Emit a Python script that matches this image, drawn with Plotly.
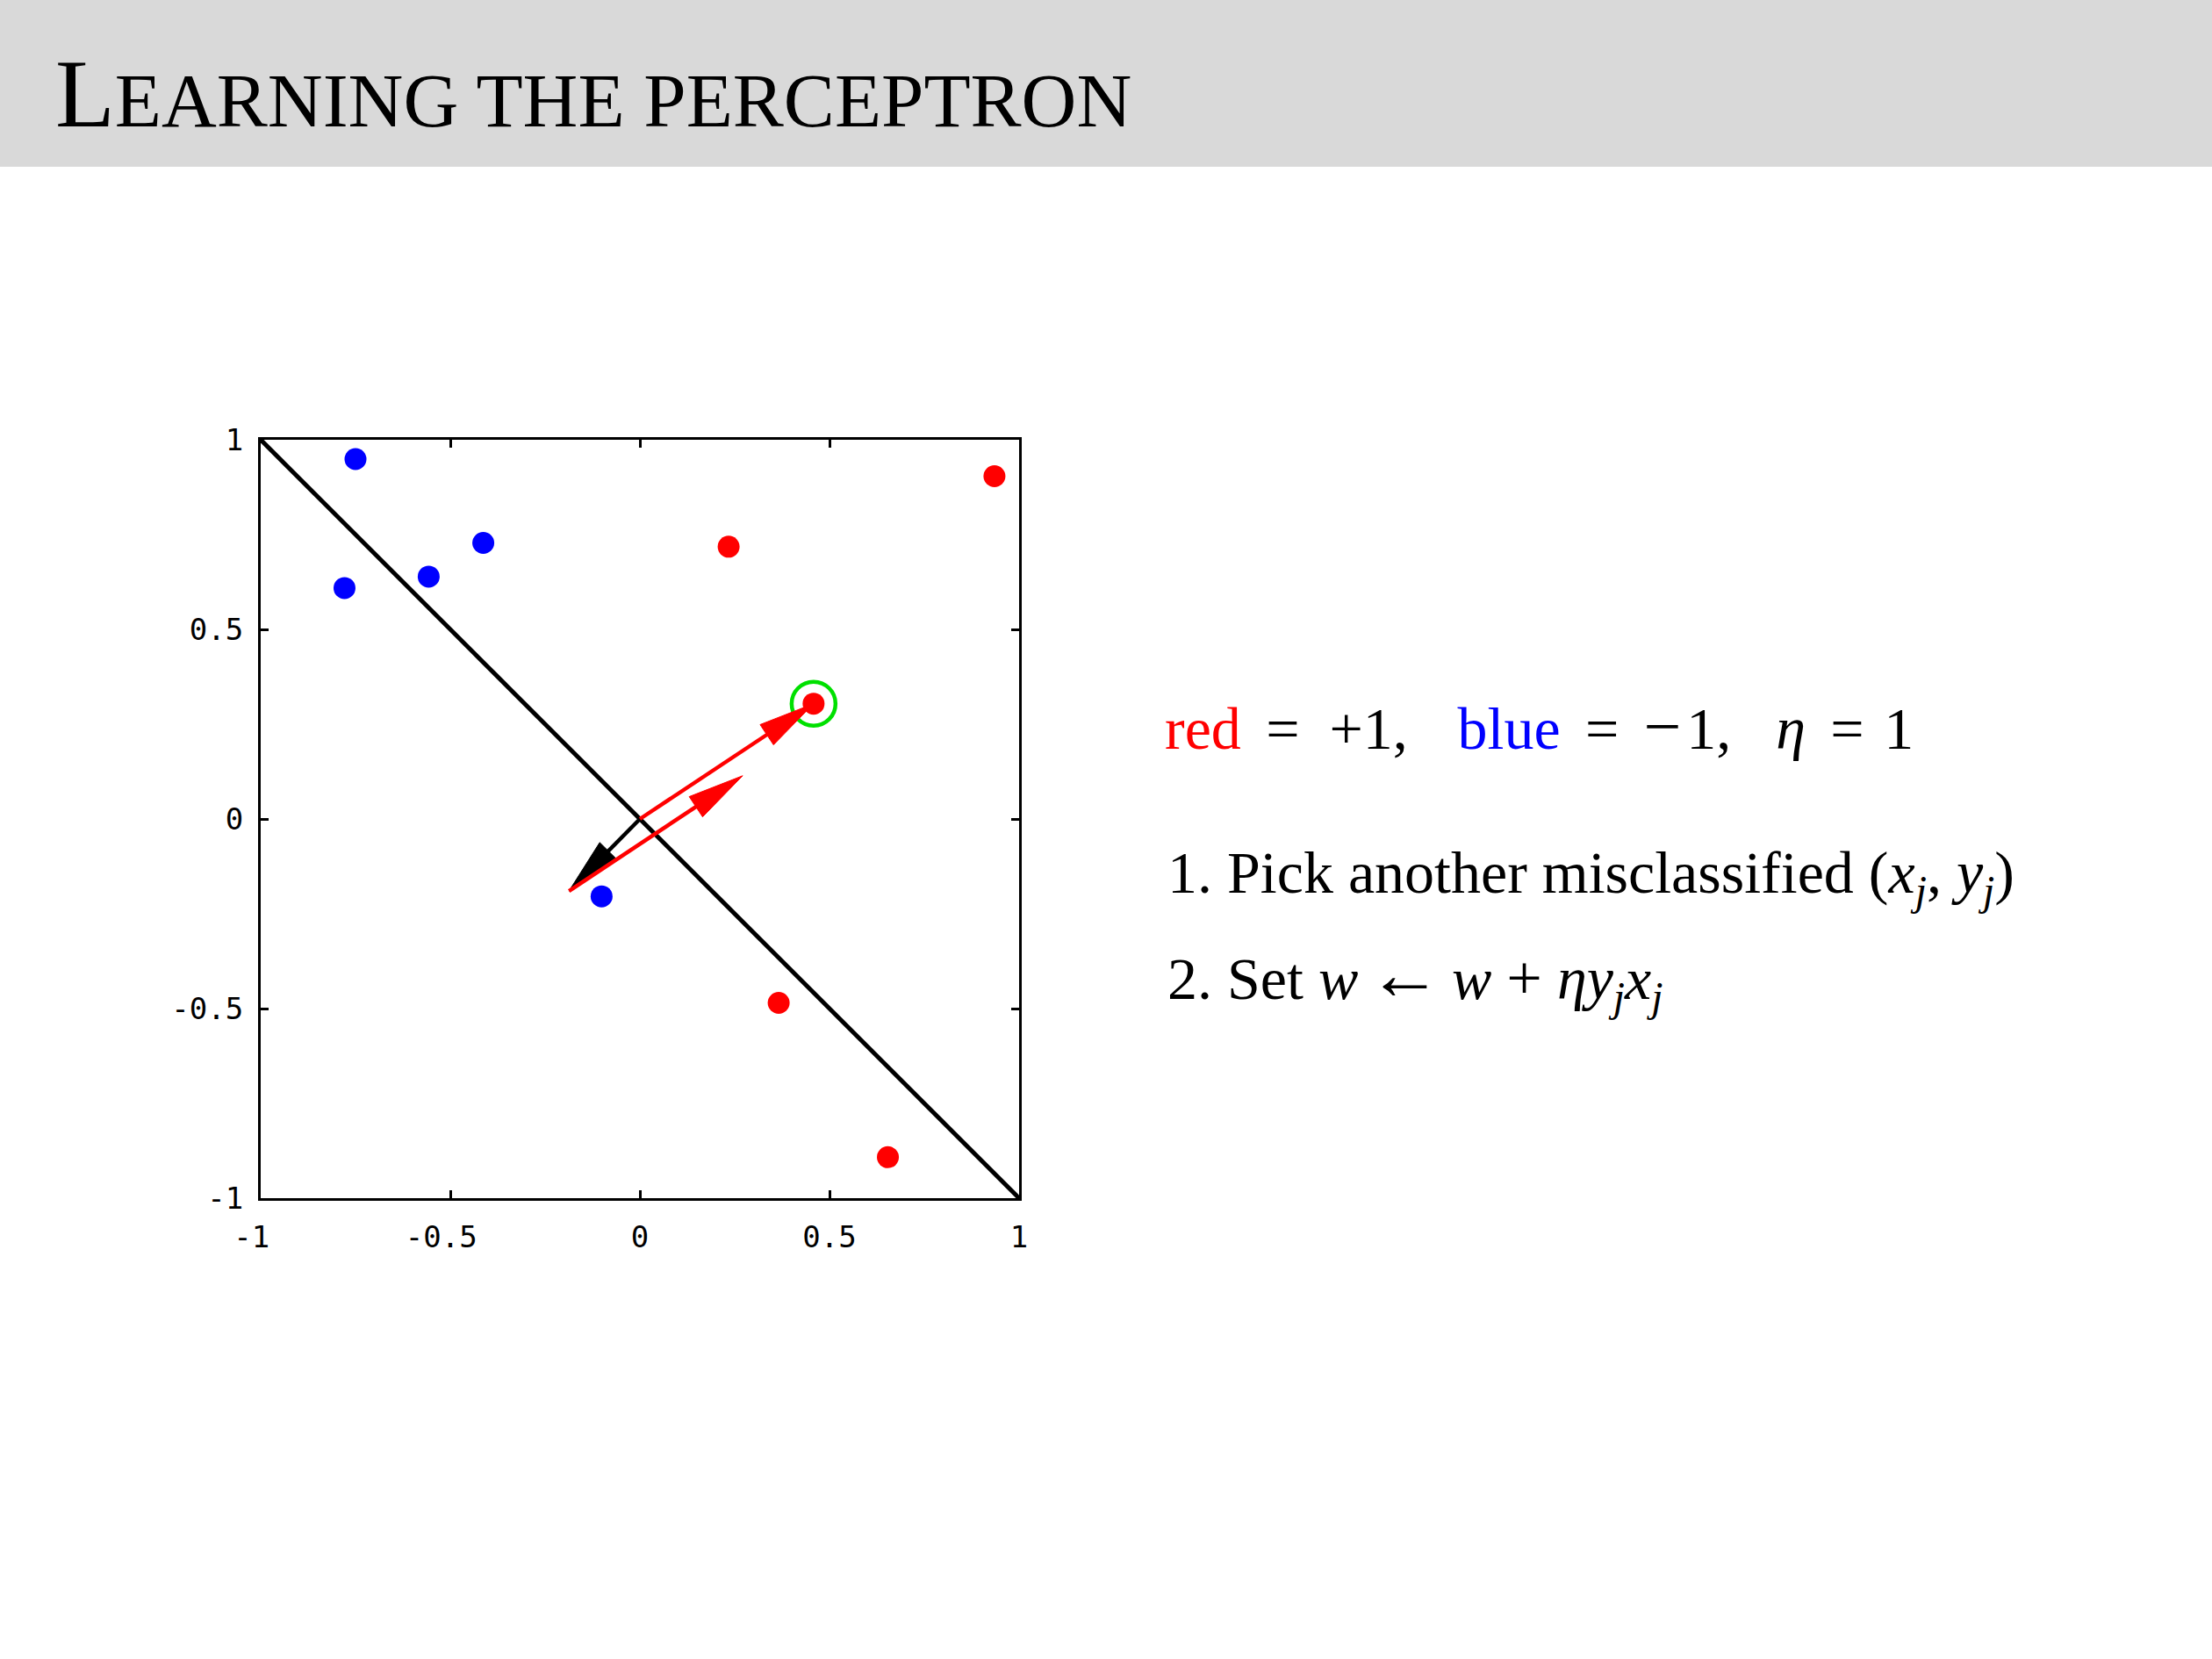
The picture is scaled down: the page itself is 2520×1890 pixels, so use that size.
import math
import plotly.graph_objects as go

# ---- data ----
blue_x = [-0.750, -0.779, -0.557, -0.413, -0.101]
blue_y = [0.949, 0.609, 0.639, 0.728, -0.204]
red_x = [0.935, 0.234, 0.458, 0.366, 0.654]
red_y = [0.904, 0.718, 0.304, -0.485, -0.892]
picked_index = 2          # index into the red points: the misclassified (x_j, y_j)
picked_label = 1          # y_j = +1 (red)
eta = 1
w_old = [-0.187, -0.190]  # current weight vector
boundary_x = [-1, 1]
boundary_y = [1, -1]
tick_vals = [-1, -0.5, 0, 0.5, 1]
tick_text = ["-1", "-0.5", "0", "0.5", "1"]

title_first = "L"
title_rest = "EARNING THE PERCEPTRON"

# ---- styles ----
W, H = 2520, 1890
RED = "#ff0000"
BLUE = "#0000ff"
GREEN = "#00e000"
HEAD_LEN = 0.148
HEAD_HALF = 0.032

xj = [red_x[picked_index], red_y[picked_index]]
step = [eta * picked_label * xj[0], eta * picked_label * xj[1]]
w_new = [w_old[0] + step[0], w_old[1] + step[1]]

# x labels: the minus sign hangs to the left of the centred number
tick_text_x = [t + "\u00a0" if t.startswith("-") else t for t in tick_text]

fig = go.Figure()

fig.add_trace(go.Scatter(x=boundary_x, y=boundary_y, mode="lines",
                         line=dict(color="black", width=5), hoverinfo="skip"))
fig.add_trace(go.Scatter(x=blue_x, y=blue_y, mode="markers",
                         marker=dict(color=BLUE, size=25, line=dict(width=0))))
fig.add_trace(go.Scatter(x=red_x, y=red_y, mode="markers",
                         marker=dict(color=RED, size=25, line=dict(width=0))))
fig.add_trace(go.Scatter(x=[xj[0]], y=[xj[1]], mode="markers",
                         marker=dict(symbol="circle-open", size=50,
                                     line=dict(color=GREEN, width=4.5), color=GREEN)))


def add_arrow(start, end, color):
    dx, dy = end[0] - start[0], end[1] - start[1]
    L = math.hypot(dx, dy)
    ux, uy = dx / L, dy / L
    px, py = -uy, ux
    bx, by = end[0] - HEAD_LEN * ux, end[1] - HEAD_LEN * uy
    fig.add_trace(go.Scatter(x=[start[0], bx + 0.02 * ux], y=[start[1], by + 0.02 * uy],
                             mode="lines", line=dict(color=color, width=4.5),
                             hoverinfo="skip"))
    fig.add_trace(go.Scatter(
        x=[end[0], bx + HEAD_HALF * px, bx - HEAD_HALF * px, end[0]],
        y=[end[1], by + HEAD_HALF * py, by - HEAD_HALF * py, end[1]],
        mode="lines", fill="toself", fillcolor=color,
        line=dict(color=color, width=1), hoverinfo="skip"))


add_arrow([0, 0], w_old, "black")
add_arrow([0, 0], xj, RED)
add_arrow(w_old, w_new, RED)

x0p, x1p = 297 / W, 1161 / W
y0p, y1p = 1 - 1365 / H, 1 - 501 / H

axis_common = dict(range=[-1, 1], showgrid=False, zeroline=False,
                   showline=True, linecolor="black", linewidth=3,
                   mirror="ticks", ticks="inside", ticklen=9, tickwidth=2.5,
                   tickcolor="black", tickmode="array", tickvals=tick_vals,
                   automargin=False,
                   tickfont=dict(family="DejaVu Sans Mono", size=34, color="black"),
                   fixedrange=True)

fig.update_layout(
    width=W, height=H, margin=dict(l=0, r=0, t=0, b=0, pad=0),
    paper_bgcolor="white", plot_bgcolor="white", showlegend=False,
    xaxis=dict(domain=[x0p, x1p], ticktext=tick_text_x, ticklabelstandoff=12,
               **axis_common),
    yaxis=dict(domain=[y0p, y1p], ticktext=tick_text, ticklabelstandoff=10,
               **axis_common),
    shapes=[dict(type="rect", xref="paper", yref="paper", x0=0, x1=1,
                 y0=1 - 190 / H, y1=1, fillcolor="#d9d9d9",
                 line=dict(width=0), layer="below")],
)

serif = "Liberation Serif"
fs_title = 111
fig.add_annotation(
    xref="paper", yref="paper", x=61 / W, y=1 - (142 - 0.891 * fs_title) / H,
    xanchor="left", yanchor="top", showarrow=False,
    text=f"{title_first}<span style='font-size:87px'>{title_rest}</span>",
    font=dict(family=serif, size=fs_title, color="black"))

fs = 68
s_eq = "\u2005\u2006"      # space around relation signs
red_part = f"<span style='color:{RED}'>red</span>"
blue_part = f"<span style='color:{BLUE}'>blue</span>"
minus = "<span style='font-size:76px'>\u2212</span>"
line1 = (f"{red_part}{s_eq}=\u2002+1,\u2002\u2004"
         f"{blue_part}{s_eq}={s_eq}{minus}\u200a1,\u2002\u2005"
         f"<i>\u03b7</i>{s_eq}=\u20041")
line2 = ("1. Pick another misclassified (<i>x</i><sub><i>j</i></sub>, "
         "<i>y</i><sub><i>j</i></sub>)")
line3 = ("2. Set <i>w</i>\u2006<span style='font-size:84px'>\u2190</span>\u2006<i>w</i>"
         "\u2005<span style='font-size:72px'>+</span>\u2005"
         "<i>\u03b7y</i><sub><i>j</i></sub><i>x</i><sub><i>j</i></sub>")
# (baseline px, text, left px, largest font size in the line)
lines = [(851, line1, 1325, 76), (1015, line2, 1328, 68), (1136, line3, 1328, 84)]
for base, txt, xl, fmax in lines:
    fig.add_annotation(
        xref="paper", yref="paper", x=xl / W, y=1 - (base - 0.891 * fmax) / H,
        xanchor="left", yanchor="top", showarrow=False, text=txt,
        font=dict(family=serif, size=fs, color="black"))

fig.write_html("out.html")
